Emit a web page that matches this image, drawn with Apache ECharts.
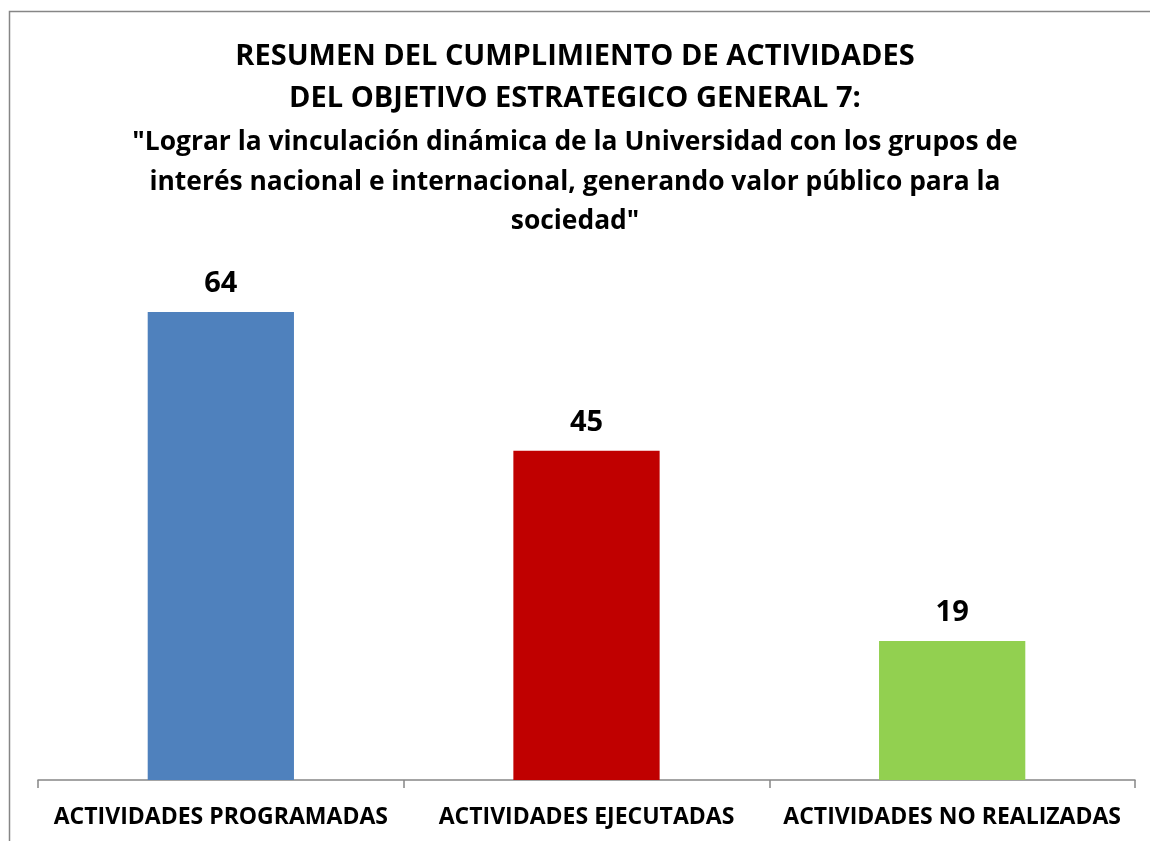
<!DOCTYPE html>
<html>
<head>
<meta charset="utf-8">
<script src="https://cdn.jsdelivr.net/npm/echarts@6/dist/echarts.min.js"></script>
<style>
html, body { margin: 0; padding: 0; background: #fff; }
#main { width: 1150px; height: 841px; }
</style>
</head>
<body>
<div id="main"></div>
<script>
var categories = ['ACTIVIDADES PROGRAMADAS', 'ACTIVIDADES EJECUTADAS', 'ACTIVIDADES NO REALIZADAS'];
var values = [64, 45, 19];
var colors = ['#4f81bd', '#c00000', '#92d050'];

var myChart = echarts.init(document.getElementById('main'));

var option = {
    backgroundColor: '#fff',
    textStyle: { fontFamily: 'Open Sans' },
    graphic: [{
        type: 'rect',
        shape: { x: 9.5, y: 11.5, width: 1160, height: 860 },
        style: { fill: 'none', stroke: '#868686', lineWidth: 1.5 },
        silent: true
    }],
    title: [{
        text: 'RESUMEN DEL CUMPLIMIENTO DE ACTIVIDADES\nDEL OBJETIVO ESTRATEGICO GENERAL 7:',
        left: 'center',
        top: 31,
        textStyle: { fontSize: 29, fontWeight: 'bold', color: '#000', lineHeight: 42, fontFamily: 'Open Sans', align: 'center' }
    }, {
        text: '"Lograr la vinculación dinámica de la Universidad con los grupos de\ninterés nacional e internacional, generando valor público para la\nsociedad"',
        left: 'center',
        top: 118,
        textStyle: { fontSize: 26.4, fontWeight: 'bold', color: '#000', lineHeight: 39.5, fontFamily: 'Open Sans', align: 'center' }
    }],
    grid: { left: 38, right: 15, top: 268, bottom: 61 },
    xAxis: {
        type: 'category',
        data: categories,
        axisLine: { lineStyle: { color: '#868686', width: 1.5 } },
        axisTick: { show: true, length: 8, lineStyle: { color: '#868686', width: 1.5 } },
        axisLabel: { color: '#000', fontSize: 23, fontWeight: 'bold', margin: 26, interval: 0 }
    },
    yAxis: {
        type: 'value',
        min: 0,
        max: 70,
        show: false,
        splitLine: { show: false }
    },
    series: [{
        type: 'bar',
        barWidth: '40%',
        data: values.map(function (v, i) {
            return { value: v, itemStyle: { color: colors[i] } };
        }),
        label: {
            show: true,
            position: 'top',
            distance: 14,
            color: '#000',
            fontSize: 29,
            fontWeight: 'bold'
        }
    }]
};
myChart.setOption(option);
</script>
</body>
</html>
